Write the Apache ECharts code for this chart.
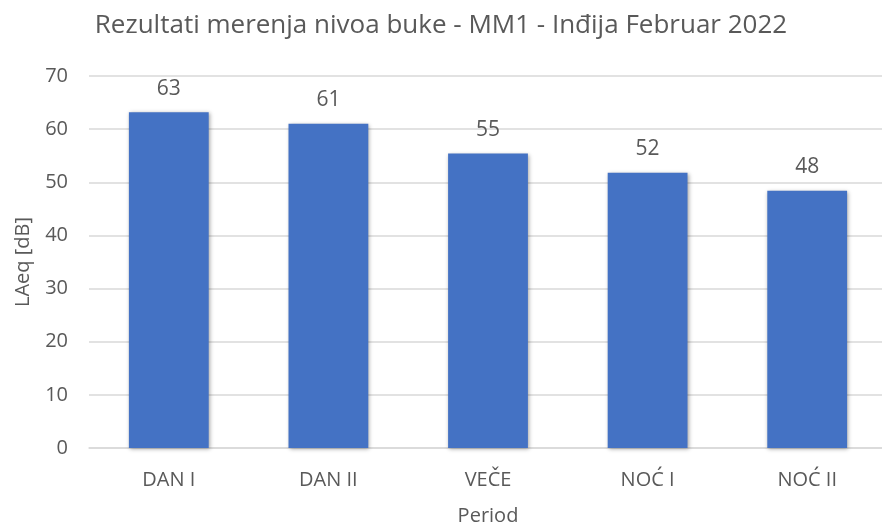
<!DOCTYPE html>
<html>
<head>
<meta charset="utf-8">
<script src="https://cdn.jsdelivr.net/npm/echarts@6/dist/echarts.min.js"></script>
<style>
  html, body { margin: 0; padding: 0; background: #ffffff; }
  #chart { width: 882px; height: 526px; }
</style>
</head>
<body>
<div id="chart"></div>
<script>
// Noise measurement results per period (LAeq, dB)
const periods = ['DAN I', 'DAN II', 'VEČE', 'NOĆ I', 'NOĆ II'];
const laeqValues = [63.2, 61.0, 55.4, 51.8, 48.4];
const yTicks = { min: 0, max: 70, step: 10 };

const font = '"Open Sans", "Noto Sans", sans-serif';
const textGray = '#595959';

const chart = echarts.init(document.getElementById('chart'));
chart.setOption({
  animation: false,
  backgroundColor: '#ffffff',
  title: {
    text: 'Rezultati merenja nivoa buke - MM1 - Inđija Februar 2022',
    left: 'center',
    top: 8,
    textStyle: { fontFamily: font, fontSize: 26, fontWeight: 'normal', color: textGray }
  },
  grid: {
    left: 89, width: 798, top: 76, bottom: 78,
    outerBoundsMode: 'none'
  },
  xAxis: {
    type: 'category',
    data: periods,
    name: 'Period',
    nameLocation: 'middle',
    nameGap: 58,
    nameTextStyle: { fontFamily: font, fontSize: 20, color: textGray },
    axisLine: { show: true, lineStyle: { color: '#d9d9d9', width: 1.5 } },
    axisTick: { show: false },
    axisLabel: { fontFamily: font, fontSize: 20, color: textGray, margin: 22 }
  },
  yAxis: {
    type: 'value',
    min: yTicks.min,
    max: yTicks.max,
    interval: yTicks.step,
    name: 'LAeq [dB]',
    nameLocation: 'middle',
    nameRotate: 90,
    nameGap: 56,
    nameTextStyle: { fontFamily: font, fontSize: 20, color: textGray },
    axisLine: { show: false },
    axisTick: { show: false },
    axisLabel: { fontFamily: font, fontSize: 20, color: textGray, margin: 21 },
    splitLine: { lineStyle: { color: '#d9d9d9', width: 1.5 } }
  },
  series: [{
    type: 'bar',
    data: laeqValues,
    barWidth: '50%',
    itemStyle: {
      color: '#4472c4',
      shadowColor: 'rgba(0,0,0,0.35)',
      shadowBlur: 4,
      shadowOffsetX: 1,
      shadowOffsetY: 1
    },
    label: {
      show: true,
      position: 'top',
      distance: 13,
      fontFamily: font,
      fontSize: 21,
      color: textGray,
      formatter: p => Math.round(p.value).toString()
    }
  }]
});
</script>
</body>
</html>
